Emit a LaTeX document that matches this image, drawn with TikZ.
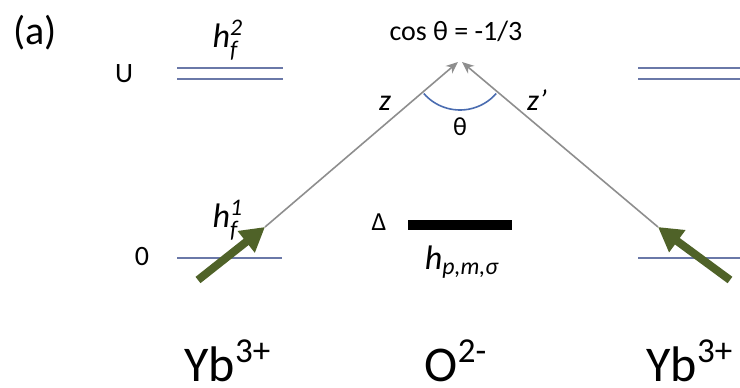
\documentclass[tikz,border=0pt]{standalone}
\usepackage{amsmath}
\usepackage{fontspec}
\setmainfont{Carlito}
\usetikzlibrary{arrows.meta,positioning}
\definecolor{lvl}{HTML}{6A78A8}
\definecolor{spingreen}{HTML}{4F6228}
\definecolor{arcblue}{HTML}{4A6CB0}
\definecolor{bondgray}{HTML}{8E8E8E}

\begin{document}
\begin{tikzpicture}[x=0.5pt,y=-0.5pt,
    level/.style={draw=lvl,line width=1.4pt},
    bond/.style={-{Stealth[length=6pt,width=5pt]},draw=bondgray,line width=0.8pt},
    spin/.style={-{Triangle[length=12pt,width=13pt]},draw=spingreen,line width=4pt},
    lab/.style={font=\fontsize{14}{16}\selectfont,inner sep=0pt},
    hlab/.style={font=\fontsize{17}{20}\selectfont\itshape,inner sep=0pt},
    ion/.style={font=\fontsize{25}{30}\selectfont,inner sep=0pt,anchor=base}
]
\useasboundingbox (0,0) rectangle (740,387);

% sites
\coordinate (apex) at (460,62);
\coordinate (s1) at (265,227);
\coordinate (s2) at (658,227);
\coordinate (t1) at (198,280);
\coordinate (t2) at (730,280);

% levels on the two Yb sites
\draw[level] (177,68) -- (283,68);
\draw[level] (177,79) -- (283,79);
\draw[level] (638,68) -- (740,68);
\draw[level] (638,79) -- (740,79);
\draw[level] (177,258) -- (282,258);
\draw[level] (638,258) -- (740,258);

% oxygen level
\draw[line width=5pt] (408,225) -- (512,225);

% hopping paths
\draw[bond] (s1) -- ([xshift=-1pt]apex);
\draw[bond] (s2) -- ([xshift=1pt]apex);
\draw[arcblue,line width=0.8pt] (apex) ++(139:48) arc[start angle=139,end angle=41,radius=48];

% spins
\draw[spin] (t1) -- (s1);
\draw[spin] (t2) -- (s2);

% labels
\node[font=\fontsize{20}{24}\selectfont,inner sep=0pt] (tag) at (35,33) {(a)};
\node[lab] (U) at (124,74) {U};
\node[lab] (zero) at (142,257) {0};
\node[hlab] (hf2) at (228,40) {h$_{\textit{f}}^{\textit{2}}$};
\node[hlab] (hf1) at (228,220) {h$_{\textit{f}}^{\textit{1}}$};
\node[lab] (cos) at (456,31) {cos θ = -1/3};
\node[lab,font=\fontsize{15}{18}\selectfont\itshape] (z) at (385,103) {z};
\node[lab,font=\fontsize{15}{18}\selectfont\itshape] (zp) at (537,100) {z'};
\node[lab,font=\fontsize{13}{16}\selectfont] (theta) at (460,127) {θ};
\node[lab,font=\fontsize{13}{16}\selectfont] (delta) at (379,222) {Δ};
\node[hlab] (hp) at (462,262) {h$_{\textit{p,m,σ}}$};

% ions
\node[ion] (yb1) at (228,381) {Yb\textsuperscript{3+}};
\node[ion] (ox) at (456,381) {O\textsuperscript{2-}};
\node[ion] (yb2) at (690,381) {Yb\textsuperscript{3+}};
\end{tikzpicture}
\end{document}
